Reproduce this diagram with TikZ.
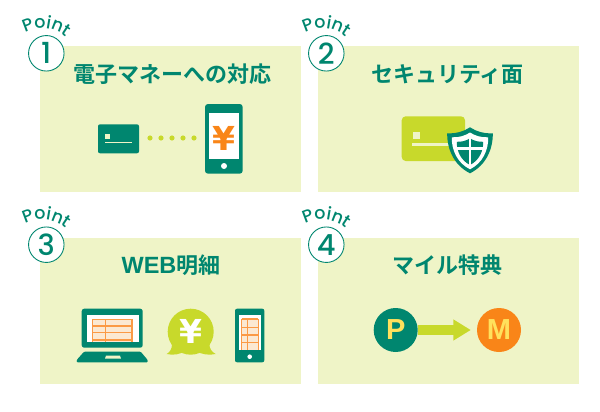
\documentclass[tikz,border=0pt]{standalone}
\usepackage{fontspec}
\setmainfont{Poppins Medium}
\newfontfamily\jpfont{Noto Sans CJK JP Bold}
\newfontfamily\latinbold{Liberation Sans Bold}
\newfontfamily\yenfont{DejaVu Sans Bold}
\usetikzlibrary{arrows.meta,decorations.text}
\definecolor{cardgreen}{HTML}{00866F}
\definecolor{panelbg}{HTML}{EFF4C7}
\definecolor{limegreen}{HTML}{C8D92B}
\definecolor{markorange}{HTML}{F98518}
\definecolor{lineorange}{HTML}{FB9A45}
\definecolor{paleorange}{HTML}{FBE9D2}
\definecolor{markyellow}{HTML}{FFE15C}
\def\shieldshape[#1](#2)(#3){\fill[#1,shift={(#2)},scale=#3] (0,0) .. controls (6,4) and (14,6.5) .. (22.8,6) .. controls (23,22) and (16,38) .. (0,46) .. controls (-16,38) and (-23,22) .. (-22.8,6) .. controls (-14,6.5) and (-6,4) .. (0,0) -- cycle;}
\tikzset{
	panel/.style={fill=panelbg},
	heading/.style={text=cardgreen,font=\jpfont\fontsize{22}{22}\selectfont,inner sep=0},
	pointcircle/.style={circle,draw=cardgreen,fill=white,line width=0.9pt,minimum size=35.5pt,inner sep=0,text=cardgreen,font=\fontsize{29}{29}\selectfont},
	yenmark/.style={inner sep=0,font=\yenfont\fontsize{33}{33}\selectfont},
	coin/.style={circle,minimum size=44pt,inner sep=0,text=markyellow,font=\latinbold\fontsize{29}{29}\selectfont},
	tableline/.style={draw=lineorange,line width=1.2pt},
}
\begin{document}
\begin{tikzpicture}[x=1pt,y=-1pt]
	\useasboundingbox (0,0) rectangle (600,412);
	%%%%% PANELS %%%%%
	\fill[panel] (39.5,46.5) rectangle (301,192);
	\fill[panel] (317.5,46.5) rectangle (579,192);
	\fill[panel] (39.5,237.7) rectangle (301,384);
	\fill[panel] (317.5,237.7) rectangle (579,384);
	
	\node[heading] (title1) at (172,74.5) {電子マネーへの対応};
	\node[heading] (title2) at (447.5,74.5) {セキュリティ面};
	\node[heading] (title3) at (171,265) {{\latinbold\fontsize{23.5}{23.5}\selectfont WEB}明細};
	\node[heading] (title4) at (447.5,265) {マイル特典};
	
	%%%%% POINT MARKS %%%%%
	\foreach \cx/\cy/\num in {46.3/53.3/1, 326.3/53.3/2, 46.3/244.7/3, 326.3/244.7/4} {
		\node[pointcircle] (mark\num) at (\cx,\cy) {\num};
		\path[decorate,decoration={text along path,text align=center,text color=cardgreen,text={|\fontsize{17.5}{17.5}\selectfont|Point}}] (\cx-28,\cy-16) .. controls (\cx-15,\cy-28) and (\cx+8,\cy-30) .. (\cx+26,\cy-11);
	}
	
	%%%%% CARD AND PHONE %%%%%
	\fill[cardgreen,rounded corners=2pt] (98,124.3) rectangle (139,153.3);
	\fill[panelbg] (105,134.3) rectangle (110,139);
	\fill[panelbg] (105,141.8) rectangle (132,143);
	\foreach \px in {150,161,172,183,194}
		\fill[limegreen] (\px,138) circle (2.6);
	\fill[cardgreen,rounded corners=3pt] (205,104) rectangle (242.7,173.7);
	\fill[white] (209,112.7) rectangle (239,159.3);
	\fill[white] (224,166) circle (3);
	\node[yenmark,text=markorange] (yen1) at (224,138.5) {¥};
	
	%%%%% CARD AND SHIELD %%%%%
	\fill[limegreen,rounded corners=4pt] (401.7,116.3) rectangle (465,161);
	\fill[panelbg] (412.7,131.7) rectangle (420,139);
	\fill[panelbg] (412,143.3) rectangle (450,145.8);
	\shieldshape[cardgreen](470,127.3)(1)
	\shieldshape[white](470,132.5)(0.8)
	\shieldshape[cardgreen](470,138.3)(0.58)
	\fill[white] (468.6,137) rectangle (471.4,166);
	\fill[white] (455,147.2) rectangle (485,149.6);
	
	%%%%% LAPTOP %%%%%
	\fill[cardgreen,rounded corners=2.5pt] (81.7,308.7) rectangle (142.7,347.7);
	\fill[white] (87.3,315) rectangle (138.7,341.7);
	\fill[paleorange] (92.7,319.3) rectangle (132,341.7);
	\foreach \ly in {319.3,326,332.7,340}
		\draw[tableline] (92.7,\ly) -- (132,\ly);
	\foreach \lx in {92.7,105.7,132}
		\draw[tableline] (\lx,319.3) -- (\lx,341.7);
	\fill[cardgreen,rounded corners=1pt] (84,351.7) -- (140.7,351.7) -- (147.7,360) -- (147.7,362.3) -- (76.7,362.3) -- (76.7,360) -- cycle;
	\fill[panelbg] (106,355.7) -- (120,355.7) -- (121,358.7) -- (105,358.7) -- cycle;
	
	%%%%% BUBBLE %%%%%
	\fill[limegreen] (190.7,331.7) circle (23);
	\fill[limegreen] (172,344) .. controls (172,349) and (170,352) .. (166.7,354) .. controls (173,355.5) and (180,354.5) .. (185,351) -- cycle;
	\fill[limegreen] (209.4,344) .. controls (209.4,349) and (212,352) .. (215.7,354) .. controls (209,355.5) and (201,354.5) .. (196.4,351) -- cycle;
	\node[yenmark,text=white] (yen2) at (190.7,331.5) {¥};
	
	%%%%% SMALL PHONE %%%%%
	\fill[cardgreen,rounded corners=2pt] (235,308.7) rectangle (264.3,362.3);
	\fill[white] (239,315) rectangle (260.7,350.3);
	\fill[paleorange] (241.7,319) rectangle (258.3,350.3);
	\foreach \ly in {319,327.3,335,342.3}
		\draw[tableline] (241.7,\ly) -- (258.3,\ly);
	\foreach \lx in {241.7,247.3,258.3}
		\draw[tableline] (\lx,319) -- (\lx,350.3);
	\fill[white] (249.7,356.7) circle (2.3);
	
	%%%%% POINTS TO MILES %%%%%
	\node[coin,fill=cardgreen] (pcoin) at (395.7,330) {P};
	\node[coin,fill=markorange] (mcoin) at (499,330) {M};
	\draw[limegreen,line width=10pt,-{Triangle[length=17.5pt,width=20pt]},shorten >=6pt] (pcoin) -- (mcoin);
\end{tikzpicture}
\end{document}
